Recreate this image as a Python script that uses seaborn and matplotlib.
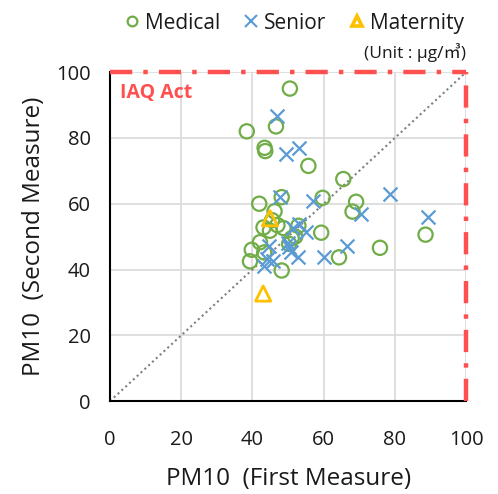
import matplotlib
matplotlib.use("Agg")
import matplotlib.pyplot as plt
import seaborn as sns
import pandas as pd
from matplotlib.lines import Line2D

# ---- data ----
medical_x = [50.5, 38.4, 46.6, 43.4, 43.6, 55.7, 65.5, 41.9, 48.2, 46.2, 59.7, 69.1, 68.1,
             43.1, 44.9, 48.7, 52.9, 59.3, 51.0, 50.3, 42.1, 39.8, 43.3, 39.3, 48.2, 64.3,
             75.8, 88.6, 45.5, 47.0, 52.0]
medical_y = [95.0, 82.0, 83.5, 77.0, 76.0, 71.5, 67.5, 60.0, 62.0, 57.7, 61.8, 60.6, 57.6,
             52.8, 51.8, 52.6, 53.3, 51.2, 49.5, 47.8, 48.3, 46.0, 45.2, 42.5, 39.7, 43.7,
             46.6, 50.6, 55.0, 53.5, 50.0]
senior_x = [46.8, 49.4, 53.0, 78.6, 57.0, 70.5, 89.4, 66.5, 60.1, 55.0, 53.2, 51.5, 47.6,
            44.5, 44.0, 43.1, 45.9, 50.3, 50.8, 52.9, 50.0]
senior_y = [86.7, 75.2, 77.0, 63.0, 60.7, 57.0, 56.0, 47.3, 43.9, 51.3, 53.8, 52.5, 62.0,
            47.0, 43.2, 41.2, 42.5, 46.8, 45.2, 43.7, 48.0]
maternity_x = [44.9, 43.0]
maternity_y = [55.6, 32.7]

ticks = [0, 20, 40, 60, 80, 100]

GREEN = "#70AD47"
BLUE = "#5B9BD5"
YELLOW = "#FFC000"
RED = "#FF5050"

sns.set_theme(style="white")
plt.rcParams["font.family"] = ["Open Sans", "Noto Sans CJK KR", "DejaVu Sans"]

fig = plt.figure(figsize=(4.98, 4.94), dpi=100)
ax = fig.add_axes([0.221, 0.188, 0.715, 0.666])

med = pd.DataFrame({"x": medical_x, "y": medical_y})
sen = pd.DataFrame({"x": senior_x, "y": senior_y})
mat = pd.DataFrame({"x": maternity_x, "y": maternity_y})

ax.grid(True, color="#D9D9D9", linewidth=1.2)
ax.set_axisbelow(True)

ax.plot([0, 100], [0, 100], linestyle=(0, (1, 1.5)), color="#808080", linewidth=1.5, zorder=1)

sns.scatterplot(data=med, x="x", y="y", ax=ax, marker="o", s=105,
                facecolor="none", edgecolor=GREEN, linewidth=1.6, zorder=3)
sns.scatterplot(data=sen, x="x", y="y", ax=ax, marker="x", s=100,
                color=BLUE, linewidth=1.6, zorder=3)
sns.scatterplot(data=mat, x="x", y="y", ax=ax, marker="^", s=120,
                facecolor="none", edgecolor=YELLOW, linewidth=2.0, zorder=3)

ax.set_xlim(0, 100)
ax.set_ylim(0, 100)
ax.set_xticks(ticks)
ax.set_yticks(ticks)
ax.set_xticklabels([str(t) for t in ticks], fontsize=14.5)
ax.set_yticklabels([str(t) for t in ticks], fontsize=14.5)
ax.tick_params(axis="x", length=0, pad=20.5, colors="#1a1a1a")
ax.tick_params(axis="y", length=0, pad=14, colors="#1a1a1a")

# red IAQ boundary lines
ax.axhline(100, color=RED, linewidth=3.2, linestyle=(0, (5, 2.5, 1, 2.5)), zorder=4, clip_on=False)
ax.axvline(100, color=RED, linewidth=3.2, linestyle=(0, (5, 2.5, 1, 2.5)), zorder=4, clip_on=False)
ax.text(2.8, 93.6, "IAQ Act", color=RED, fontsize=14, fontweight="bold", ha="left", va="center")

for s in ["top", "right"]:
    ax.spines[s].set_visible(False)
for s in ["left", "bottom"]:
    ax.spines[s].set_color("#000000")
    ax.spines[s].set_linewidth(1.5)

ax.set_xlabel("PM10  (First Measure)", fontsize=17.5, labelpad=12.5, color="#1a1a1a")
ax.set_ylabel("PM10  (Second Measure)", fontsize=17.5, labelpad=7, color="#1a1a1a")

handles = [
    Line2D([], [], marker="o", linestyle="none", markerfacecolor="none", markeredgecolor=GREEN,
           markersize=7, markeredgewidth=1.6, label="Medical"),
    Line2D([], [], marker="x", linestyle="none", color=BLUE, markersize=9, markeredgewidth=1.5,
           label="Senior"),
    Line2D([], [], marker="^", linestyle="none", markerfacecolor="none", markeredgecolor=YELLOW,
           markersize=7.5, markeredgewidth=2.6, label="Maternity"),
]
fig.legend(handles=handles, loc="center", bbox_to_anchor=(0.588, 0.953), ncol=3, frameon=False,
           fontsize=15, handletextpad=0.1, columnspacing=1.0, handlelength=1.0,
           labelcolor="#1a1a1a")
fig.text(0.935, 0.894, "(Unit : μg/㎥)", ha="right", va="center", fontsize=12.5, color="#1a1a1a")

fig.savefig("out.png", dpi=100)
